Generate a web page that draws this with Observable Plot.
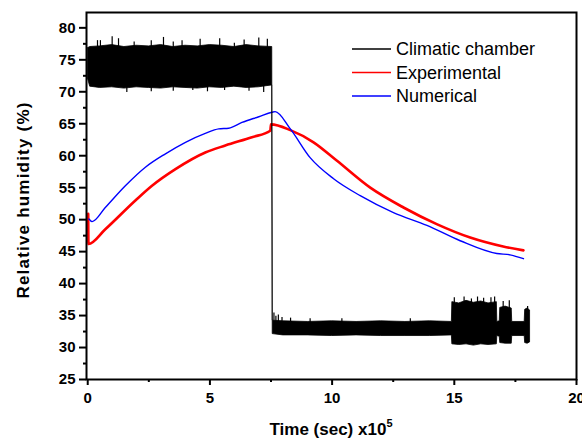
<!DOCTYPE html>
<html>
<head>
<meta charset="utf-8">
<script src="https://cdn.jsdelivr.net/npm/d3@7"></script>
<script src="https://cdn.jsdelivr.net/npm/@observablehq/plot@0.6"></script>
<style>
  html, body { margin: 0; padding: 0; background: white; }
  #chart { position: relative; width: 582px; height: 439px; }
</style>
</head>
<body>
<div id="chart"></div>
<script>
// ---- data ----
const seriesNames = ["Climatic chamber", "Experimental", "Numerical"];
const seriesColors = ["#000000", "#ff0000", "#0000ff"];

const xTicks = [0, 5, 10, 15, 20];
const xMinorTicks = [2.5, 7.5, 12.5, 17.5];
const yTicks = [25, 30, 35, 40, 45, 50, 55, 60, 65, 70, 75, 80];
const yMinorTicks = [27.5, 32.5, 37.5, 42.5, 47.5, 52.5, 57.5, 62.5, 67.5, 72.5, 77.5];

// Climatic chamber: envelope (low / high) of the dense noisy signal
const chamberX = [0, 0.1, 0.5, 1.0, 1.5, 2.0, 2.5, 3.0, 3.5, 4.0, 4.5, 5.0, 5.5, 6.0, 6.5, 7.0, 7.55,
  7.57, 8.0, 9.0, 10.0, 11.0, 12.0, 13.0, 14.0, 14.9,
  14.92, 15.2, 15.5, 15.8, 16.1, 16.4, 16.74, 16.76, 16.86, 16.88, 17.1, 17.35, 17.37, 17.88, 17.9, 18.0, 18.1];
const chamberHi = [76.8, 77.0, 77.1, 77.3, 77.0, 77.2, 77.1, 77.3, 77.0, 77.2, 77.1, 77.3, 77.2, 77.0, 77.3, 77.1, 77.0,
  34.2, 34.1, 34.0, 34.1, 34.0, 34.1, 34.0, 34.1, 34.0,
  37.1, 36.9, 37.3, 37.0, 37.2, 36.9, 37.1, 34.0, 34.1, 36.2, 36.4, 36.1, 34.0, 34.0, 35.9, 36.1, 35.8];
const chamberLo = [72.2, 70.8, 70.6, 70.7, 70.5, 70.7, 70.6, 70.5, 70.7, 70.6, 70.5, 70.7, 70.6, 70.8, 70.6, 70.7, 71.0,
  32.1, 31.9, 31.9, 31.8, 31.9, 31.8, 31.8, 31.8, 31.9,
  30.5, 30.4, 30.5, 30.3, 30.5, 30.4, 30.5, 31.8, 31.7, 30.7, 30.6, 30.6, 31.8, 31.8, 30.7, 30.6, 30.8];

// isolated spikes / dips of the noisy chamber signal
const spikeX = [0.4, 0.52, 1.0, 1.26, 1.9, 2.6, 3.1, 3.5, 3.86, 4.6, 5.4, 6.0, 6.4, 7.0, 7.35,
  1.6, 2.6, 3.5, 4.3, 4.9, 5.6, 6.6, 7.2,
  7.62, 7.7, 7.8, 7.95, 8.3, 9.1, 10.4, 13.2,
  15.0, 15.4, 15.7, 15.95, 16.2, 16.5, 16.65, 17.0, 17.25, 18.0];
const spikeLo = [76, 76, 76, 76, 76, 76, 76, 76, 76, 76, 76, 76, 76, 76, 76,
  69.9, 70.0, 70.1, 70.2, 70.0, 70.2, 70.1, 69.9,
  33, 33, 33, 33, 33, 33, 33, 33,
  36, 36, 36, 36, 36, 36, 36, 35, 35, 35];
const spikeHi = [78.0, 78.0, 78.6, 78.3, 77.8, 78.0, 78.5, 77.8, 78.0, 78.2, 78.3, 77.6, 78.1, 78.4, 78.2,
  71, 71, 71, 71, 71, 71, 71, 71,
  35.4, 34.9, 35.1, 34.7, 34.6, 34.5, 34.5, 34.5,
  37.8, 37.9, 37.6, 37.9, 37.7, 37.8, 37.9, 37.2, 37.3, 36.4];

// Experimental (red)
const expX = [0.02, 0.03, 0.72, 1.95, 2.63, 3.59, 4.81, 5.63, 6.72, 7.47, 7.5, 8.29, 9.24, 10.2, 11.56, 12.92, 14.28, 15.65, 17.0, 17.83];
const expY = [50.9, 46.2, 48.5, 53.0, 55.3, 57.9, 60.5, 61.6, 62.9, 63.9, 64.9, 64.0, 62.1, 59.2, 55.0, 51.9, 49.3, 47.2, 45.8, 45.2];

// Numerical (blue)
const numX = [0.05, 0.18, 0.72, 1.54, 2.36, 3.18, 4.0, 4.81, 5.36, 5.77, 6.31, 7.0, 7.54, 7.67, 8.29, 9.1, 10.06, 11.15, 12.51, 13.88, 15.24, 16.74, 17.28, 17.83];
const numY = [50.1, 49.7, 51.9, 55.3, 58.2, 60.3, 62.1, 63.5, 64.2, 64.3, 65.2, 66.1, 66.8, 66.9, 64.2, 59.7, 56.4, 53.75, 51.1, 49.1, 46.7, 44.7, 44.5, 43.9];

const xLabel = "Time (sec) x10";
const xLabelSup = "5";
const yLabel = "Relative humidity (%)";

// ---- build tables ----
const chamber = chamberX.map((x, i) => ({x, lo: chamberLo[i], hi: chamberHi[i]}));
const spikes = spikeX.map((x, i) => ({x, lo: spikeLo[i], hi: spikeHi[i]}));
const exp = expX.map((x, i) => ({x, y: expY[i]}));
const num = numX.map((x, i) => ({x, y: numY[i]}));

const FONT = "'Liberation Sans', Arial, Helvetica, sans-serif";

const plot = Plot.plot({
  width: 582,
  height: 439,
  marginLeft: 86,
  marginRight: 6,
  marginTop: 12,
  marginBottom: 60,
  x: {domain: [-0.05, 20], axis: null},
  y: {domain: [25, 82.4], axis: null},
  style: {fontFamily: FONT, fontSize: "15px", fontWeight: "bold", color: "black", background: "white", overflow: "visible"},
  marks: [
    Plot.line(exp, {x: "x", y: "y", stroke: seriesColors[1], strokeWidth: 2.6, curve: "monotone-x"}),
    Plot.line(num, {x: "x", y: "y", stroke: seriesColors[2], strokeWidth: 1.4, curve: "monotone-x"}),
    Plot.areaY(chamber, {x: "x", y1: "lo", y2: "hi", fill: seriesColors[0], stroke: seriesColors[0], strokeWidth: 0.8}),
    Plot.ruleX(spikes, {x: "x", y1: "lo", y2: "hi", stroke: seriesColors[0], strokeWidth: 1.2}),
    Plot.frame({stroke: "black", strokeWidth: 2}),
    Plot.axisX({ticks: xTicks, tickSize: 6, tickPadding: 7, strokeWidth: 2, label: null, tickFormat: d => String(d), fontWeight: "bold"}),
    Plot.axisX({ticks: xMinorTicks, tickSize: 3, strokeWidth: 2, label: null, tickFormat: () => ""}),
    Plot.axisY({ticks: yTicks, tickSize: 7, tickPadding: 4, strokeWidth: 2, label: null, tickFormat: d => String(d), fontWeight: "bold"}),
    Plot.axisY({ticks: yMinorTicks, tickSize: 3, strokeWidth: 2, label: null, tickFormat: () => ""})
  ]
});

document.getElementById("chart").appendChild(plot);

const svg = d3.select(plot);
// x axis title with superscript
const xt = svg.append("text")
  .attr("x", 331).attr("y", 435)
  .attr("text-anchor", "middle")
  .style("font-family", FONT).style("font-size", "17px").style("font-weight", "bold")
  .text(xLabel);
xt.append("tspan").attr("dy", -8).style("font-size", "11px").text(xLabelSup);

// y axis title
svg.append("text")
  .attr("transform", "translate(29,200) rotate(-90)")
  .attr("text-anchor", "middle")
  .style("font-family", FONT).style("font-size", "17px").style("font-weight", "bold")
  .style("letter-spacing", "1.2px")
  .text(yLabel);

// legend
const lg = svg.append("g");
seriesNames.forEach((name, i) => {
  const cy = 49 + i * 23.5;
  lg.append("line").attr("x1", 352).attr("x2", 391).attr("y1", cy).attr("y2", cy)
    .attr("stroke", seriesColors[i]).attr("stroke-width", 1.5);
  lg.append("text").attr("x", 396).attr("y", cy).attr("dy", "0.35em")
    .attr("text-anchor", "start")
    .style("font-family", FONT).style("font-size", "18px").style("font-weight", "normal")
    .text(name);
});
</script>
</body>
</html>
